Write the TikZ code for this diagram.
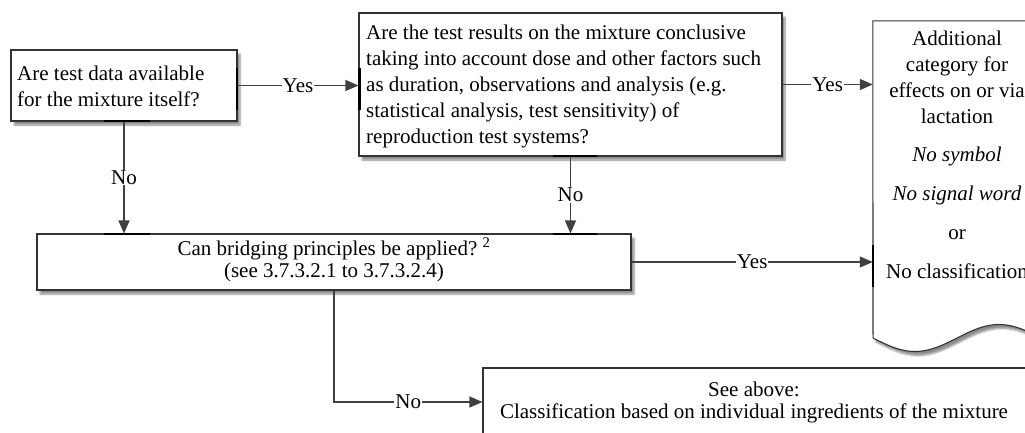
\documentclass[tikz,border=0pt]{standalone}
\usepackage{fontspec}
\setmainfont{Liberation Serif}
\usetikzlibrary{arrows.meta,shadows.blur,calc}
\begin{document}
\begin{tikzpicture}[x=1pt,y=-1pt,
  every node/.style={font=\fontsize{21}{25.8}\selectfont},
  boxstyle/.style={draw=black!80, line width=1.1pt, fill=white, inner sep=0pt,
    blur shadow={shadow xshift=3pt, shadow yshift=-4pt, shadow blur steps=6, shadow opacity=45}},
  conn/.style={draw=black!75, line width=1.1pt, -{Triangle[length=13pt,width=11pt]}},
  lbl/.style={fill=white, inner sep=1pt},
  hilite/.style={draw=black, line width=2.6pt}
]
\useasboundingbox (0,0) rectangle (1025,432);
\clip (0,0) rectangle (1025,432);

% box 1
\node[boxstyle, minimum width=226pt, minimum height=71pt] (b1) at (124,85.5) {};
\node[anchor=west, align=left, inner sep=0pt] (t1) at (17,86.5)
  {Are test data available\\for the mixture itself?};

% box 2
\node[boxstyle, minimum width=423pt, minimum height=143pt] (b2) at (570.5,84.5) {};
\node[anchor=west, align=left, inner sep=0pt] (t2) at (366,86.5)
  {Are the test results on the mixture conclusive\\
   taking into account dose and other factors such\\
   as duration, observations and analysis (e.g.\\
   statistical analysis, test sensitivity) of\\
   reproduction test systems?};

% box 4
\node[boxstyle, minimum width=594pt, minimum height=56pt] (b4) at (334,262) {};
\node[align=center, inner sep=0pt, font=\fontsize{21}{22.5}\selectfont] (t4) at (334,260)
  {Can bridging principles be applied?~\textsuperscript{2}\\(see 3.7.3.2.1 to 3.7.3.2.4)};

% box 5
\node[boxstyle, minimum width=547pt, minimum height=68pt] (b5) at (756.5,402) {};
\node[align=center, inner sep=0pt, font=\fontsize{21}{22}\selectfont] (t5) at (754,402)
  {See above:\\Classification based on individual ingredients of the mixture};

% document shape
\node[minimum width=168pt, minimum height=317pt, inner sep=0pt] (doc) at (957,179.5) {};
\path[draw=black!80, line width=1.1pt, fill=white,
  blur shadow={shadow xshift=3pt, shadow yshift=-4pt, shadow blur steps=6, shadow opacity=45}]
  (doc.north west) -- (doc.north east) -- (1041,338)
  -- plot[domain=1:0, samples=40, smooth] ({873+168*\x},{338+13.5*sin(360*\x)}) -- cycle;
\node[align=center, anchor=north, inner sep=0pt] (tdoc) at (957,31)
  {Additional\\category for\\effects on or via\\lactation\\[12.5pt]
   \textit{No symbol}\\[13.2pt]\textit{No signal word}\\[13.2pt]or\\[13.2pt]No classification};

% connection highlights
\draw[hilite] (237,68) -- (237,110);
\draw[hilite] (104,121) -- (150,121);
\draw[hilite] (359.5,68) -- (359.5,110);
\draw[hilite] (553,156) -- (597,156);
\draw[hilite] (104,234) -- (150,234);
\draw[hilite] (553,234) -- (597,234);
\draw[hilite] (873,245) -- (873,287);

% connectors
\draw[conn] (b1.east) -- node[lbl]{Yes} (b2.west |- b1.east);
\draw[conn] (b2.east) -- node[lbl]{Yes} (doc.west |- b2.east);
\draw[conn] (b1.south) -- node[lbl]{No} (b1.south |- b4.north);
\draw[conn] (b2.south) -- node[lbl]{No} (b2.south |- b4.north);
\draw[conn] (b4.east) -- node[lbl]{Yes} (doc.west |- b4.east);
\draw[conn] (b4.south) |- node[lbl, pos=0.75]{No} (b5.west);
\end{tikzpicture}
\end{document}
